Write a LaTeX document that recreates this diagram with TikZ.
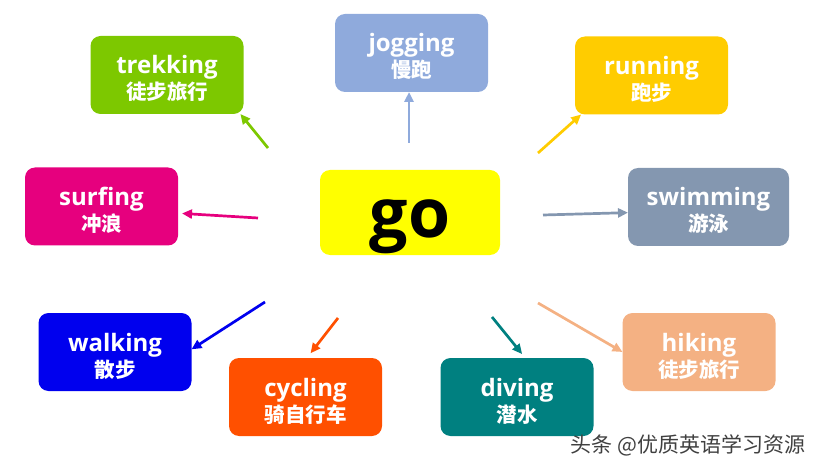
\documentclass[tikz,border=0pt]{standalone}
\usepackage{fontspec}
\usepackage{tikz}
\usetikzlibrary{arrows.meta}

\newfontfamily\enfont{Open Sans}
\newfontfamily\cnfont{Noto Sans CJK SC}

\definecolor{trekc}{HTML}{7DC800}
\definecolor{jogc}{HTML}{8FAADC}
\definecolor{runc}{HTML}{FFCC00}
\definecolor{surfc}{HTML}{E6007E}
\definecolor{goc}{HTML}{FFFF00}
\definecolor{swimc}{HTML}{8497B0}
\definecolor{walkc}{HTML}{0000EE}
\definecolor{cycc}{HTML}{FF5000}
\definecolor{divec}{HTML}{008080}
\definecolor{hikec}{HTML}{F4B183}

\newcommand{\wordpair}[2]{{\enfont\fontsize{24}{26}\selectfont #1}\\{\cnfont #2}}

\begin{document}
\begin{tikzpicture}[
  x=1pt, y=-1pt,
  box/.style={rectangle, rounded corners=10pt, minimum width=153pt, minimum height=78pt,
    inner sep=0pt, outer sep=0pt, text=white, align=center,
    font=\bfseries\fontsize{20.5}{26}\selectfont, text height=50pt, text depth=0pt},
  arw/.style={-{Triangle[length=10pt, width=9pt]}, line width=2.7pt}
  ]

\useasboundingbox (0,0) rectangle (813,470);

\node [box, fill=goc, minimum width=180pt, minimum height=85pt, text=black,
  font=\enfont\bfseries\fontsize{68}{70}\selectfont, text height=51pt, text depth=0pt] (go) at (410,212.5) {go};

\node [box, fill=trekc] (trek) at (167,75) {\wordpair{trekking}{徒步旅行}};
\node [box, fill=jogc] (jog) at (411.5,53) {\wordpair{jogging}{慢跑}};
\node [box, fill=runc] (run) at (651.5,75.5) {\wordpair{running}{跑步}};
\node [box, fill=surfc] (surf) at (101.5,206.5) {\wordpair{surfing}{冲浪}};
\node [box, fill=swimc, minimum width=161pt] (swim) at (708.5,207) {\wordpair{swimming}{游泳}};
\node [box, fill=walkc] (walk) at (115,352) {\wordpair{walking}{散步}};
\node [box, fill=cycc] (cyc) at (305.5,397) {\wordpair{cycling}{骑自行车}};
\node [box, fill=divec] (dive) at (517,397) {\wordpair{diving}{潜水}};
\node [box, fill=hikec] (hike) at (699,352) {\wordpair{hiking}{徒步旅行}};

\coordinate (tTrek) at (268,148);
\coordinate (tJog) at (409,143);
\coordinate (tRun) at (538,153);
\coordinate (tSurf) at (258,218);
\coordinate (tSwim) at (543,215);
\coordinate (tWalk) at (265,302);
\coordinate (tCyc) at (338,318);
\coordinate (tDive) at (492,317);
\coordinate (tHike) at (538,303);

\draw [arw, trekc] (tTrek) -- (trek.-28);
\draw [arw, jogc] (tJog) -- (tJog |- jog.south);
\draw [arw, runc] (tRun) -- (run.-151);
\draw [arw, surfc, shorten >=4pt] (tSurf) -- (surf.-5);
\draw [arw, swimc] (tSwim) -- (swim.-176);
\draw [arw, walkc] (tWalk) -- (walk.2);
\draw [arw, cycc, shorten >=6pt] (tCyc) -- (cyc.88);
\draw [arw, divec, shorten >=5pt] (tDive) -- (dive.78);
\draw [arw, hikec] (tHike) -- (hike.west);

\node [anchor=west, text=black!75, font=\cnfont\fontsize{21}{24}\selectfont] (mark) at (567,445) {头条 @优质英语学习资源};

\end{tikzpicture}
\end{document}
